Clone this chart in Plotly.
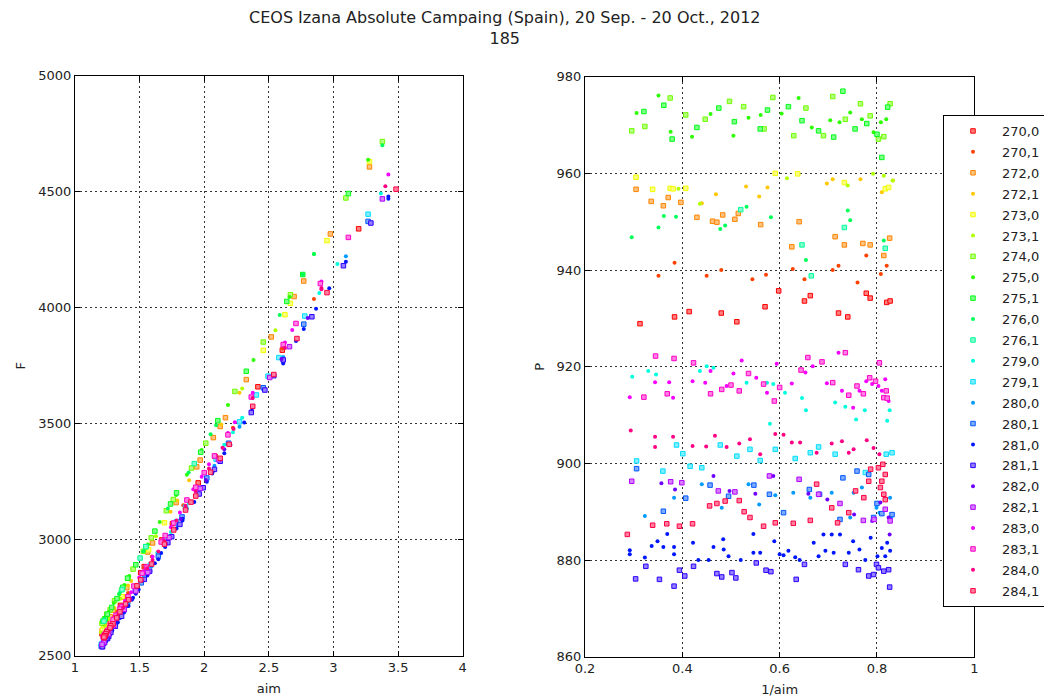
import colorsys
import plotly.graph_objects as go

# Each series: (1/aim, F, P) per measurement
s270_0 = [(0.313, 4340, 928.9), (0.384, 3817, 930.3), (0.414, 3659, 931.4), (0.48, 3359, 931.1),
          (0.512, 3245, 929.3), (0.57, 3069, 932.4), (0.598, 2999, 935.7), (0.651, 2884, 933.6),
          (0.663, 2858, 934.7), (0.721, 2752, 931.1), (0.74, 2717, 930.3), (0.778, 2664, 935.2),
          (0.786, 2647, 934.2), (0.82, 2603, 933.3), (0.827, 2594, 933.6)]
s270_1 = [(0.351, 4037, 938.8), (0.384, 3825, 941.5), (0.45, 3483, 938.8), (0.48, 3365, 940.0),
          (0.544, 3148, 938.1), (0.572, 3069, 939.0), (0.627, 2928, 940.2), (0.651, 2880, 938.1),
          (0.709, 2770, 940.0), (0.721, 2755, 940.9), (0.76, 2691, 937.4), (0.778, 2664, 943.0),
          (0.808, 2620, 939.2), (0.82, 2603, 940.9)]
s272_0 = [(0.305, 4607, 956.7), (0.336, 4318, 954.2), (0.361, 4115, 953.3), (0.371, 4048, 955.0),
          (0.397, 3874, 954.0), (0.43, 3690, 950.9), (0.462, 3526, 950.1), (0.471, 3488, 949.9),
          (0.483, 3440, 951.4), (0.508, 3343, 950.5), (0.515, 3314, 951.7), (0.561, 3160, 949.4),
          (0.625, 2986, 944.8), (0.64, 2947, 950.0), (0.714, 2793, 946.9), (0.733, 2754, 945.2),
          (0.771, 2697, 945.5), (0.786, 2668, 945.2), (0.814, 2629, 943.0), (0.826, 2610, 946.6)]
s272_1 = [(0.44, 3633, 953.8), (0.469, 3497, 955.7), (0.531, 3256, 957.3), (0.558, 3169, 955.2),
          (0.575, 3121, 957.1), (0.697, 2822, 957.9), (0.709, 2803, 958.8), (0.766, 2706, 958.8),
          (0.81, 2629, 956.1), (0.833, 2600, 958.5)]
s273_0 = [(0.305, 4630, 959.2), (0.339, 4289, 956.7), (0.375, 4019, 956.9), (0.381, 3970, 956.8),
          (0.407, 3816, 956.9), (0.591, 3073, 960.0), (0.637, 2957, 959.9), (0.733, 2754, 958.1),
          (0.817, 2619, 956.8), (0.824, 2610, 957.1)]
s273_1 = [(0.392, 3903, 956.8), (0.436, 3652, 953.7), (0.615, 3015, 959.0), (0.74, 2745, 957.5),
          (0.792, 2658, 959.9), (0.814, 2629, 959.5), (0.832, 2600, 958.5)]
s274_0 = [(0.296, 4716, 968.8), (0.323, 4473, 969.7), (0.375, 4056, 975.6), (0.407, 3852, 972.1),
          (0.447, 3639, 971.2), (0.497, 3416, 974.9), (0.526, 3309, 973.8), (0.568, 3173, 969.2),
          (0.586, 3125, 975.7), (0.629, 3008, 967.8), (0.654, 2950, 973.5), (0.69, 2873, 967.8),
          (0.709, 2834, 975.9), (0.735, 2785, 971.2), (0.766, 2737, 974.4), (0.786, 2698, 971.9),
          (0.803, 2679, 967.1), (0.814, 2659, 967.6), (0.827, 2640, 974.4)]
s275_0 = [(0.306, 4638, 972.5), (0.351, 4231, 976.1), (0.376, 4046, 968.6), (0.42, 3775, 967.6),
          (0.458, 3581, 972.3), (0.505, 3387, 967.8), (0.536, 3280, 971.5), (0.561, 3193, 972.1),
          (0.604, 3076, 972.4), (0.639, 2979, 975.6), (0.666, 2921, 969.5), (0.704, 2843, 971.0),
          (0.723, 2805, 970.6), (0.745, 2766, 972.6), (0.769, 2727, 971.2), (0.793, 2688, 968.5),
          (0.808, 2669, 970.6), (0.819, 2649, 971.2)]
s275_1 = [(0.321, 4492, 972.8), (0.362, 4143, 974.1), (0.379, 4027, 967.1), (0.43, 3726, 969.5),
          (0.475, 3513, 973.5), (0.507, 3377, 970.7), (0.56, 3202, 969.2), (0.575, 3154, 973.1),
          (0.618, 3037, 973.8), (0.646, 2970, 970.9), (0.68, 2892, 968.8), (0.711, 2834, 967.5),
          (0.73, 2795, 977.0), (0.755, 2746, 969.2), (0.779, 2708, 970.3), (0.8, 2679, 968.1),
          (0.81, 2659, 963.3), (0.822, 2649, 973.7)]
s276_0 = [(0.296, 4700, 946.8), (0.351, 4231, 948.8), (0.362, 4143, 951.2), (0.387, 3969, 951.0),
          (0.478, 3493, 948.5), (0.488, 3455, 949.2), (0.532, 3290, 953.1), (0.582, 3134, 950.9),
          (0.654, 2950, 942.1), (0.74, 2776, 952.3), (0.745, 2766, 950.3), (0.814, 2659, 946.1)]
s276_1 = [(0.52, 3328, 952.5), (0.646, 2970, 945.2), (0.665, 2921, 938.8), (0.733, 2785, 948.8),
          (0.817, 2649, 944.5)]
s279_0 = [(0.297, 4492, 917.9), (0.33, 4188, 919.1), (0.346, 4063, 918.4), (0.436, 3526, 919.1),
          (0.45, 3463, 920.1), (0.464, 3409, 919.8), (0.532, 3159, 916.7), (0.574, 3033, 916.7),
          (0.58, 3015, 908.2), (0.587, 2998, 916.4), (0.611, 2944, 914.6), (0.646, 2863, 913.5),
          (0.654, 2845, 911.0), (0.714, 2729, 912.6), (0.735, 2693, 911.7), (0.757, 2657, 909.1),
          (0.775, 2631, 911.0), (0.821, 2568, 908.8), (0.826, 2559, 911.0)]
s279_1 = [(0.306, 4403, 900.5), (0.36, 3964, 898.4), (0.388, 3785, 903.8), (0.401, 3705, 902.0),
          (0.416, 3624, 899.4), (0.44, 3508, 899.1), (0.478, 3347, 903.8), (0.512, 3221, 901.5),
          (0.539, 3141, 902.9), (0.56, 3078, 900.6), (0.591, 2989, 902.9), (0.632, 2890, 901.0),
          (0.663, 2827, 902.2), (0.68, 2792, 903.4), (0.714, 2729, 901.9), (0.776, 2631, 898.1),
          (0.819, 2568, 901.9), (0.831, 2550, 902.2)]
s280_0 = [(0.323, 4222, 889.1), (0.383, 3788, 892.9), (0.44, 3487, 895.7), (0.481, 3319, 890.8),
          (0.536, 3133, 895.7), (0.558, 3062, 891.5), (0.591, 2974, 893.4), (0.628, 2885, 893.9),
          (0.663, 2814, 892.9), (0.707, 2726, 893.9), (0.752, 2655, 893.9), (0.769, 2629, 895.0),
          (0.799, 2584, 890.8), (0.805, 2575, 889.8), (0.827, 2549, 892.9), (0.829, 2549, 888.8),
          (0.745, 2664, 888.8)]
s280_1 = [(0.306, 4372, 898.9), (0.361, 3929, 890.1), (0.407, 3655, 892.8), (0.457, 3416, 895.5),
          (0.495, 3266, 893.2), (0.547, 3098, 895.5), (0.579, 3009, 893.6), (0.608, 2929, 889.8),
          (0.661, 2814, 894.6), (0.682, 2779, 893.6), (0.73, 2690, 897.0), (0.759, 2646, 898.4),
          (0.783, 2611, 897.7), (0.8, 2584, 891.7), (0.81, 2567, 889.6), (0.831, 2540, 889.4),
          (0.793, 2593, 888.8), (0.724, 2699, 888.4)]
s281_0 = [(0.292, 4479, 882.0), (0.292, 4470, 881.2), (0.323, 4198, 880.5), (0.337, 4084, 882.9),
          (0.349, 3996, 883.9), (0.361, 3908, 882.7), (0.369, 3856, 885.4), (0.383, 3768, 882.7),
          (0.383, 3760, 881.2), (0.422, 3557, 883.6), (0.433, 3505, 880.0), (0.454, 3408, 880.0),
          (0.464, 3373, 882.7), (0.484, 3294, 884.3), (0.485, 3285, 882.2), (0.495, 3250, 880.8),
          (0.52, 3162, 880.0), (0.546, 3083, 881.5), (0.546, 3090, 885.4), (0.56, 3048, 881.5),
          (0.589, 2969, 883.9), (0.6, 2943, 881.2), (0.608, 2916, 881.0), (0.618, 2899, 881.9),
          (0.632, 2864, 880.6), (0.641, 2846, 880.0), (0.67, 2785, 883.6), (0.68, 2767, 880.8),
          (0.69, 2750, 885.3), (0.694, 2741, 881.9), (0.707, 2714, 885.3), (0.711, 2714, 881.5),
          (0.724, 2688, 885.3), (0.742, 2662, 881.5), (0.751, 2644, 883.9), (0.764, 2627, 882.2),
          (0.776, 2609, 880.0), (0.787, 2591, 884.6), (0.801, 2574, 880.8), (0.81, 2556, 882.5),
          (0.817, 2548, 880.8), (0.821, 2548, 883.6), (0.827, 2539, 881.9)]
s281_1 = [(0.304, 4365, 876.1), (0.325, 4181, 878.7), (0.353, 3961, 876.0), (0.383, 3775, 874.6),
          (0.394, 3707, 877.9), (0.405, 3645, 876.7), (0.423, 3548, 878.7), (0.471, 3338, 877.2),
          (0.481, 3303, 876.5), (0.502, 3224, 877.4), (0.51, 3197, 876.3), (0.552, 3066, 879.4),
          (0.572, 3013, 877.9), (0.582, 2987, 877.6), (0.634, 2864, 876.0), (0.651, 2829, 879.1),
          (0.735, 2670, 879.1), (0.762, 2627, 878.0), (0.783, 2600, 876.7), (0.793, 2583, 877.0),
          (0.799, 2574, 879.1), (0.803, 2574, 878.4), (0.814, 2556, 877.7), (0.824, 2539, 878.0),
          (0.826, 2539, 874.4)]
s282_0 = [(0.357, 3956, 895.9), (0.385, 3779, 894.6), (0.464, 3390, 897.4), (0.497, 3257, 894.3),
          (0.55, 3089, 893.7), (0.587, 2983, 897.4), (0.659, 2823, 893.7), (0.698, 2744, 892.5),
          (0.753, 2655, 889.4), (0.79, 2602, 888.1), (0.807, 2575, 891.9), (0.824, 2549, 888.8),
          (0.826, 2549, 885.3)]
s282_1 = [(0.296, 4469, 896.3), (0.376, 3832, 896.2), (0.399, 3699, 896.0), (0.474, 3345, 894.3),
          (0.508, 3221, 894.1), (0.579, 3009, 897.4), (0.64, 2859, 896.7), (0.68, 2779, 893.6),
          (0.724, 2699, 891.7), (0.772, 2629, 888.2), (0.794, 2593, 888.4), (0.817, 2558, 890.5),
          (0.827, 2549, 888.1)]
s283_0 = [(0.292, 4574, 913.7), (0.344, 4113, 916.8), (0.373, 3904, 916.8), (0.381, 3850, 913.6),
          (0.421, 3633, 917.0), (0.447, 3506, 916.7), (0.458, 3460, 919.1), (0.491, 3325, 916.0),
          (0.505, 3271, 918.6), (0.522, 3217, 921.3), (0.552, 3117, 917.7), (0.574, 3054, 914.6),
          (0.594, 3000, 920.6), (0.625, 2927, 916.5), (0.653, 2864, 918.8), (0.668, 2837, 920.1),
          (0.697, 2773, 916.6), (0.721, 2737, 922.9), (0.728, 2719, 915.0), (0.751, 2683, 911.5),
          (0.764, 2665, 915.0), (0.778, 2646, 917.0), (0.79, 2628, 916.4), (0.803, 2610, 916.0),
          (0.81, 2592, 915.0), (0.817, 2583, 917.4), (0.824, 2574, 912.9)]
s283_1 = [(0.321, 4303, 913.7), (0.345, 4104, 922.2), (0.369, 3932, 914.4), (0.383, 3841, 921.7),
          (0.423, 3615, 920.8), (0.458, 3452, 914.4), (0.481, 3361, 915.3), (0.5, 3289, 916.2),
          (0.517, 3226, 915.0), (0.536, 3171, 918.6), (0.567, 3072, 916.4), (0.589, 3018, 912.9),
          (0.6, 2990, 915.7), (0.644, 2882, 919.3), (0.658, 2855, 921.9), (0.687, 2800, 921.0),
          (0.709, 2755, 916.7), (0.735, 2710, 922.9), (0.742, 2701, 914.1), (0.759, 2674, 916.0),
          (0.772, 2656, 914.4), (0.785, 2628, 917.7), (0.797, 2610, 917.0), (0.805, 2601, 920.8),
          (0.814, 2592, 913.6), (0.821, 2583, 913.5), (0.819, 2583, 915.0)]
s284_0 = [(0.294, 4524, 906.8), (0.344, 4085, 905.5), (0.344, 4080, 903.4), (0.381, 3826, 905.5),
          (0.421, 3611, 903.6), (0.449, 3477, 903.5), (0.467, 3396, 905.7), (0.491, 3307, 903.4),
          (0.517, 3208, 904.1), (0.539, 3146, 905.0), (0.56, 3083, 901.9), (0.591, 2994, 906.1),
          (0.608, 2949, 905.9), (0.625, 2913, 904.3), (0.642, 2877, 904.3), (0.676, 2806, 902.2),
          (0.707, 2743, 904.1), (0.728, 2707, 904.6), (0.742, 2689, 902.2), (0.752, 2671, 902.9),
          (0.779, 2627, 904.8), (0.793, 2609, 903.2), (0.805, 2591, 901.9)]
s284_1 = [(0.287, 4511, 885.3), (0.339, 4065, 887.2), (0.368, 3867, 887.5), (0.394, 3712, 887.0),
          (0.421, 3575, 887.5), (0.456, 3411, 891.2), (0.471, 3351, 891.7), (0.488, 3291, 892.2),
          (0.517, 3188, 892.3), (0.527, 3162, 890.0), (0.539, 3128, 888.8), (0.567, 3042, 887.0),
          (0.591, 2981, 887.7), (0.628, 2895, 887.6), (0.663, 2827, 888.2), (0.676, 2801, 895.7),
          (0.707, 2741, 890.8), (0.719, 2723, 887.7), (0.742, 2689, 889.8), (0.756, 2663, 894.3),
          (0.773, 2637, 892.9), (0.783, 2629, 896.3), (0.787, 2620, 898.8), (0.803, 2603, 899.1),
          (0.807, 2594, 895.0), (0.81, 2586, 896.3), (0.814, 2586, 893.6), (0.817, 2577, 897.7),
          (0.812, 2586, 899.8), (0.817, 2580, 892.5)]

labels = ["270,0", "270,1", "272,0", "272,1", "273,0", "273,1", "274,0", "275,0",
          "275,1", "276,0", "276,1", "279,0", "279,1", "280,0", "280,1", "281,0",
          "281,1", "282,0", "282,1", "283,0", "283,1", "284,0", "284,1"]
series = [s270_0, s270_1, s272_0, s272_1, s273_0, s273_1, s274_0, s275_0,
          s275_1, s276_0, s276_1, s279_0, s279_1, s280_0, s280_1, s281_0,
          s281_1, s282_0, s282_1, s283_0, s283_1, s284_0, s284_1]

title_lines = ["CEOS Izana Absolute Campaing (Spain), 20 Sep. - 20 Oct., 2012", "185"]

W, H = 1044, 700
FONT = "DejaVu Sans"
TXT = "#222222"


def hsv_colour(i, n, mix=0.0):
    r, g, b = colorsys.hsv_to_rgb(i / n, 1.0, 1.0)
    r, g, b = (c + (1 - c) * mix for c in (r, g, b))
    return f"rgb({int(r * 255)},{int(g * 255)},{int(b * 255)})"


def marker_style(i, n):
    # even entries: outlined squares, odd entries: small dots
    if i % 2 == 0:
        return dict(symbol="square", size=4.5, color=hsv_colour(i, n, 0.5),
                    line=dict(color=hsv_colour(i, n), width=1))
    return dict(symbol="circle", size=4, color=hsv_colour(i, n), line=dict(width=0))


fig = go.Figure()
n = len(series)
for i, (lab, pts) in enumerate(zip(labels, series)):
    inv = [p[0] for p in pts]
    aim = [1.0 / v for v in inv]
    F = [p[1] for p in pts]
    P = [p[2] for p in pts]
    fig.add_trace(go.Scatter(x=aim, y=F, mode="markers", marker=marker_style(i, n),
                             name=lab, legendgroup=lab, showlegend=False,
                             xaxis="x", yaxis="y"))
    fig.add_trace(go.Scatter(x=inv, y=P, mode="markers", marker=marker_style(i, n),
                             name=lab, legendgroup=lab, showlegend=True,
                             xaxis="x2", yaxis="y2"))


def px_x(a):
    return a / W


def px_y(a):
    return 1 - a / H


axis_common = dict(showline=True, linecolor="black", linewidth=1, mirror="allticks",
                   ticks="inside", ticklen=5, tickcolor="black",
                   showgrid=True, gridcolor="#333333", gridwidth=1, griddash="2px,3px",
                   zeroline=False, tickfont=dict(family=FONT, size=13, color=TXT),
                   title_font=dict(family=FONT, size=13, color=TXT))

fig.update_layout(
    width=W, height=H,
    margin=dict(l=0, r=0, t=0, b=0, autoexpand=False),
    paper_bgcolor="white", plot_bgcolor="white",
    font=dict(family=FONT, color=TXT),
    xaxis=dict(axis_common, domain=[px_x(75), px_x(462.7)], range=[1, 4], dtick=0.5,
               anchor="y", title=dict(text="aim", standoff=9)),
    yaxis=dict(axis_common, domain=[px_y(655.7), px_y(75.7)], range=[2500, 5000], dtick=500,
               anchor="x", title=dict(text="F", standoff=9)),
    xaxis2=dict(axis_common, domain=[px_x(585), px_x(974.3)], range=[0.2, 1], dtick=0.2,
                anchor="y2", title=dict(text="1/aim", standoff=9)),
    yaxis2=dict(axis_common, domain=[px_y(656.7), px_y(76.7)], range=[860, 980], dtick=20,
                anchor="x2", title=dict(text="P", standoff=9)),
    legend=dict(x=px_x(943), y=px_y(115), xanchor="left", yanchor="top",
                bgcolor="white", bordercolor="black", borderwidth=1,
                font=dict(family=FONT, size=13, color=TXT),
                tracegroupgap=1, itemwidth=48),
    showlegend=True,
    annotations=[dict(text="<br>".join(title_lines), x=px_x(505), y=px_y(6),
                      xref="paper", yref="paper", xanchor="center", yanchor="top",
                      showarrow=False, align="center",
                      font=dict(family=FONT, size=16, color=TXT))],
)

fig.write_html("out.html")
